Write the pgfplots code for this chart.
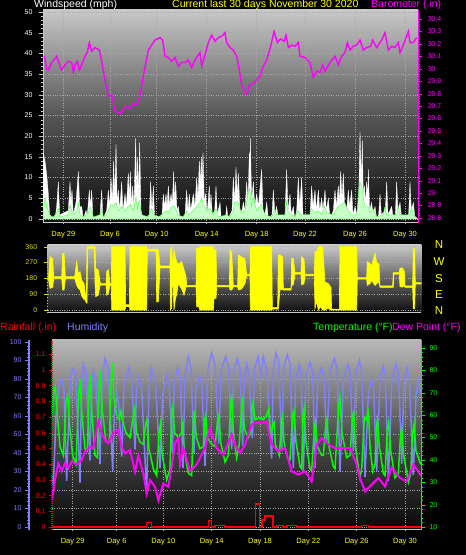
\documentclass[border=0pt]{standalone}
\usepackage{fontspec}
\setmainfont{Liberation Sans}
\usepackage{pgfplots}
\pgfplotsset{compat=1.18}
\definecolor{hum}{RGB}{128,128,255}
\definecolor{mag}{RGB}{255,0,255}
\definecolor{grn}{RGB}{0,255,0}
\definecolor{lgrn}{RGB}{200,255,200}
\definecolor{yel}{RGB}{255,255,0}
\definecolor{ylab}{RGB}{215,215,0}
\definecolor{axgr}{RGB}{200,200,200}
\definecolor{gridc}{RGB}{170,170,170}
\definecolor{aT}{RGB}{200,200,200}\definecolor{aM}{RGB}{85,85,85}\definecolor{aB}{RGB}{14,14,14}
\definecolor{bT}{RGB}{205,205,205}\definecolor{bM}{RGB}{100,100,100}\definecolor{bB}{RGB}{14,14,14}
\definecolor{cT}{RGB}{185,185,185}\definecolor{cM}{RGB}{78,78,78}\definecolor{cB}{RGB}{8,8,8}
\pgfplotsset{
  every axis/.append style={scale only axis, anchor=south west,
    /pgf/number format/assume math mode=true,
    tick label style={font=\fontsize{7}{8}\selectfont},
    tick align=outside, major tick length=4pt, minor tick length=2pt,
    grid style={dotted, gridc, line width=0.5pt}},
}
\begin{document}
\begin{tikzpicture}
\fill[black] (0pt,0pt) rectangle (466pt,555pt);

% ---------------- top panel: wind speed ----------------
\begin{axis}[at={(43pt,332pt)}, width=375pt, height=213pt,
  xmin=129, xmax=1254, ymin=-0.97, ymax=50.48,
  axis x line*=bottom, axis y line*=left,
  axis line style={axgr, line width=1pt},
  xtick={190,330,470,620,770,915,1065,1215},
  xticklabels={Day 29,Day 6,Day 10,Day 14,Day 18,Day 22,Day 26,Day 30},
  xticklabel style={text=yel, font=\fontsize{7.5}{8}\selectfont, yshift=-1pt},
  xtick style={draw=none},
  ytick={0,5,...,50}, minor y tick num=4,
  yticklabel style={text=white, xshift=-3pt}, ytick style={axgr},
  grid=major,
  axis background/.style={top color=aT, bottom color=aB, middle color=aM}]
\addplot[fill=white, draw=white, line width=0.3pt] coordinates {
(129,0)(130,16)(136,13.5)(141,10)(145,6)(149,1)(165,0)(170,3)(175,9)(179,1)(205,2)(210,9)(213,4)(216,7)(220,1)(228,4)(235,11.5)(239,3)(245,3)(250,0)(258,2)(262,1)(268,7)(271,3)(275,7)(279,0)(300,1)(305,7)(309,0)(320,2)(325,7)(329,3)(333,10)(337,4)(341,14)(344,5)(348,18)(352,3)(355,7)(359,2)(365,9)(369,2)(375,6)(379,3)(385,11)(388,5)(391,11.5)(395,3)(398,8)(402,3)(407,19.5)(410,6)(413,15)(416,5)(419,18.5)(423,2)(430,0)(448,1)(452,9)(456,2)(460,8)(464,0)(486,1)(490,6)(494,3)(498,6)(501,3)(505,8)(509,3)(513,6)(517,4)(521,11.5)(524,4)(527,9)(531,2)(535,3)(540,0)(555,1)(560,7)(564,2)(568,6)(572,2)(580,6)(585,3)(590,10)(594,5)(598,14)(601,8)(604,15)(606,9)(609,16)(613,4)(617,6)(621,1)(628,8)(630,3)(633,6)(637,1)(644,2)(648,8)(652,1)(660,4)(664,0)(676,0)(680,3)(684,0)(696,2)(700,10)(704,4)(708,12.5)(712,5)(715,11)(720,2)(726,2)(730,4)(735,2)(740,9)(744,4)(748,16)(749,8)(751,19.5)(755,4)(760,9)(764,3)(770,6)(775,3)(785,12)(789,2)(795,1)(800,4)(805,0)(816,1)(820,7)(825,1)(830,3)(835,0)(855,1)(860,12)(864,2)(870,6)(874,1)(880,3)(884,0)(890,2)(895,10)(899,3)(905,10)(909,1)(930,1)(935,8)(939,3)(945,7)(949,2)(955,7)(959,2)(965,5)(969,2)(975,7)(979,2)(985,5)(990,0)(1000,2)(1005,7)(1009,3)(1015,8)(1018,4)(1022,11.5)(1026,5)(1030,11)(1034,3)(1040,2)(1045,7)(1049,3)(1055,7)(1059,1)(1065,3)(1070,1)(1076,5)(1080,21)(1084,9)(1087,19)(1090,5)(1093,8)(1097,4)(1100,9)(1103,5)(1105,12)(1109,2)(1115,4)(1119,1)(1125,3)(1130,0)(1136,1)(1140,6)(1144,1)(1156,2)(1160,9)(1164,1)(1175,3)(1180,0)(1186,1)(1190,9)(1194,2)(1200,4)(1205,0)(1226,1)(1230,9)(1234,2)(1240,4)(1245,0)(1254,0)
} \closedcycle;
\addplot[fill=lgrn, draw=grn!70!lgrn, line width=0.35pt] coordinates {
(129,0)(132,3)(135,5.5)(140,3)(145,2)(150,0.5)(160,0.5)(170,1.5)(175,2.5)(180,0.5)(205,1)(210,3.5)(215,2)(222,1)(230,2)(235,4)(240,1)(250,0.5)(265,1.5)(270,3)(275,2)(280,0.5)(300,1)(305,2.5)(310,0.5)(320,1)(325,2)(333,3.5)(340,3)(348,4)(355,2)(365,3)(375,2)(385,3)(392,3.5)(400,2)(408,5.3)(412,2.5)(418,4.5)(425,1)(445,0.5)(450,1.5)(455,2.5)(460,1)(480,0.5)(490,1.5)(500,2)(505,1.5)(510,2.5)(520,3.2)(527,2.5)(533,1)(550,0.5)(560,2)(565,1)(580,2)(590,3)(600,4)(605,5)(610,3.5)(620,2)(630,2.5)(640,1)(648,2.5)(655,0.5)(680,1)(690,0.5)(700,2)(704,4.2)(714,4)(724,1.5)(735,2)(744,6)(749,7.4)(755,3)(759,5.5)(770,2)(784,3.5)(795,1)(815,0.5)(820,1.5)(824,2.5)(830,1)(855,1)(859,4.2)(865,1.5)(885,0.5)(894,2)(900,1)(930,1)(934,2.5)(944,1.5)(955,2)(965,1)(974,3)(980,1.5)(1000,1)(1014,3)(1024,3.5)(1034,4)(1045,2)(1055,1)(1070,1)(1079,9)(1085,8)(1090,5)(1095,3)(1104,3)(1110,1.5)(1119,2.5)(1130,0.5)(1150,1)(1154,2.8)(1160,1)(1190,1)(1194,3.2)(1200,1)(1230,1)(1234,3)(1240,1)(1254,0)
} \closedcycle;
\end{axis}

% ---------------- top panel: barometer ----------------
\begin{axis}[at={(43pt,332pt)}, width=375pt, height=213pt,
  xmin=129, xmax=1254, ymin=28.76, ymax=30.472,
  axis x line=none, axis y line*=right,
  axis line style={mag, line width=1pt},
  ytick={28.8,28.9,29,29.1,29.2,29.3,29.4,29.5,29.6,29.7,29.8,29.9,30,30.1,30.2,30.3,30.4},
  minor y tick num=4,
  yticklabel style={text=mag, xshift=2pt}, ytick style={mag}]
\addplot[mag, line width=1.4pt] coordinates {
(133,30.10)(140,30.00)(145,29.99)(155,30.05)(165,30.08)(170,30.10)(180,30.02)(185,29.99)(195,30.03)(205,30.06)(215,30.05)(220,29.97)(225,30.03)(232,30.06)(238,29.99)(245,30.03)(255,30.10)(262,30.13)(268,30.21)(275,30.14)(285,30.17)(298,30.15)(305,30.06)(315,29.91)(325,29.78)(335,29.79)(345,29.66)(360,29.64)(370,29.67)(378,29.70)(390,29.68)(400,29.72)(410,29.71)(420,29.78)(430,29.94)(445,30.15)(455,30.19)(465,30.23)(480,30.25)(488,30.23)(495,30.10)(505,30.09)(515,30.06)(525,30.09)(535,30.02)(545,30.05)(555,30.05)(565,30.07)(575,30.01)(585,30.07)(595,30.11)(600,30.13)(605,30.02)(615,30.11)(625,30.21)(635,30.27)(645,30.22)(655,30.25)(665,30.26)(675,30.29)(680,30.21)(690,30.17)(700,30.15)(710,30.10)(718,29.99)(725,29.87)(730,29.84)(740,29.79)(748,29.87)(760,29.88)(770,29.91)(780,29.94)(790,30.02)(800,30.07)(812,30.18)(822,30.30)(832,30.21)(842,30.24)(852,30.22)(858,30.27)(865,30.17)(875,30.19)(885,30.18)(895,30.21)(900,30.10)(915,30.09)(930,30.05)(940,29.93)(950,29.98)(960,29.97)(968,30.03)(975,29.98)(990,30.05)(1005,30.10)(1015,30.03)(1025,30.10)(1035,30.13)(1042,30.21)(1050,30.15)(1060,30.18)(1070,30.19)(1080,30.23)(1090,30.15)(1100,30.17)(1112,30.18)(1118,30.23)(1130,30.17)(1145,30.23)(1155,30.29)(1165,30.15)(1175,30.18)(1185,30.17)(1195,30.21)(1200,30.13)(1210,30.19)(1225,30.30)(1230,30.21)(1240,30.21)(1250,30.25)
};
\end{axis}

% ---------------- middle panel: wind direction (range band: upper edge, then lower edge back) ----------------
\begin{axis}[at={(47.7pt,242.3pt)}, width=373.6pt, height=68.7pt,
  xmin=143, xmax=1264, ymin=-15, ymax=375,
  axis x line*=bottom, axis y line*=left,
  x axis line style={axgr, line width=1pt},
  y axis line style={ylab, line width=1pt, dotted},
  xtick=\empty,
  ytick={0,90,180,270,360},
  yticklabel style={text=ylab, xshift=-3pt}, ytick style={ylab},
  ymajorgrids,
  axis background/.style={top color=bT, bottom color=bB, middle color=bM}]
\addplot[fill=yel, draw=yel, line width=0.6pt] coordinates {
(146,200)(150,303)(158,290)(161,190)(185,190)(188,322)(192,322)(196,190)(224,190)(230,275)(235,208)(240,218)(245,170)(252,150)(256,90)(259,70)(261,360)(263,360)(283,360)(285,360)(287,237)(295,227)(300,160)(302,150)(318,150)(320,218)(325,230)(330,150)(334,150)(335,360)(375,360)(377,30)(388,30)(390,360)(440,360)(442,345)(468,345)(470,345)(475,341)(480,250)(510,250)(511,351)(515,360)(518,250)(522,340)(526,300)(530,275)(535,260)(545,275)(552,230)(558,190)(560,140)(588,140)(590,351)(596,351)(600,360)(640,360)(642,341)(648,341)(650,140)(688,140)(690,341)(695,330)(700,140)(713,140)(715,313)(725,300)(735,290)(740,203)(750,203)(751,360)(815,360)(817,15)(833,15)(835,313)(840,313)(848,300)(850,121)(873,121)(875,294)(880,294)(885,212)(903,212)(905,303)(912,290)(915,203)(943,203)(945,332)(950,332)(955,360)(962,360)(968,360)(975,160)(985,150)(993,130)(995,5)(1018,5)(1020,360)(1070,360)(1072,184)(1100,184)(1102,275)(1110,265)(1115,250)(1125,322)(1130,270)(1137,260)(1140,137)(1178,137)(1180,212)(1182,212)(1198,212)(1200,237)(1207,240)(1213,220)(1215,137)(1238,137)(1240,351)(1244,351)(1246,156)(1264,156)
(1264,148)(1246,148)(1244,9)(1240,9)(1238,129)(1215,129)(1213,140)(1207,130)(1200,133)(1198,204)(1182,204)(1180,129)(1178,129)(1140,129)(1137,160)(1130,150)(1125,140)(1115,170)(1110,150)(1102,140)(1100,176)(1072,176)(1070,0)(1020,0)(1018,0)(995,0)(993,0)(985,10)(975,0)(968,0)(962,20)(955,0)(950,50)(945,9)(943,195)(915,195)(912,150)(905,142)(903,204)(885,204)(880,142)(875,142)(873,113)(850,113)(848,117)(840,114)(835,5)(833,5)(817,5)(815,0)(751,0)(750,195)(740,195)(735,150)(725,120)(715,114)(713,132)(700,132)(695,114)(690,114)(688,132)(650,132)(648,66)(642,66)(640,0)(600,0)(596,19)(590,19)(588,132)(560,132)(558,130)(552,85)(545,120)(535,150)(530,90)(526,60)(522,0)(518,240)(515,10)(511,0)(510,240)(480,240)(475,47)(470,47)(468,335)(442,335)(440,0)(390,0)(388,20)(377,20)(375,0)(335,0)(334,140)(330,140)(325,95)(320,85)(318,142)(302,142)(300,140)(295,85)(287,76)(285,150)(283,350)(263,350)(261,40)(259,40)(256,55)(252,60)(245,80)(240,114)(235,123)(230,142)(224,178)(196,178)(192,114)(188,114)(185,178)(161,178)(158,130)(150,123)(146,170)
} -- cycle;
\end{axis}

% ---------------- bottom panel: humidity (data + grid) ----------------
\begin{axis}[at={(52pt,25pt)}, width=369pt, height=190pt,
  xmin=156, xmax=1263, ymin=-1.62, ymax=101.08,
  axis x line*=bottom, axis y line*=left,
  x axis line style={axgr, line width=1pt},
  y axis line style={draw=none},
  xtick={218,350,490,635,780,925,1070,1215},
  xticklabels={Day 29,Day 6,Day 10,Day 14,Day 18,Day 22,Day 26,Day 30},
  xticklabel style={text=yel, font=\fontsize{7.5}{8}\selectfont, yshift=-1pt},
  xtick style={draw=none},
  ytick={0,10,...,100}, yticklabels={}, ytick style={draw=none},
  grid=major,
  axis background/.style={top color=cT, bottom color=cB, middle color=cM}]
\addplot[hum, line width=1.5pt] coordinates {
(156,28)(160,22)(168,60)(176,76)(185,80)(192,74)(200,25)(207,65)(213,82)(220,86)(228,80)(240,24)(244,70)(250,88)(258,84)(270,36)(274,70)(280,84)(288,80)(300,34)(306,80)(315,91)(325,86)(338,30)(343,62)(350,72)(356,66)(365,38)(372,76)(385,86)(395,80)(405,42)(409,72)(415,81)(425,75)(440,18)(447,75)(455,86)(466,80)(480,32)(488,72)(500,82)(508,76)(517,40)(523,78)(533,86)(541,80)(549,32)(555,82)(565,92)(573,86)(582,40)(588,75)(598,82)(606,76)(615,33)(623,85)(635,94)(645,88)(656,45)(664,85)(677,92)(686,86)(695,42)(701,84)(712,91)(720,86)(728,44)(733,80)(740,88)(747,82)(757,48)(764,86)(775,92)(782,82)(790,92)(800,85)(815,37)(820,85)(828,94)(836,90)(845,41)(851,86)(862,93)(870,88)(880,32)(887,80)(898,88)(904,80)(910,30)(918,82)(930,89)(938,84)(945,32)(953,80)(965,86)(972,80)(980,46)(990,84)(1003,91)(1011,86)(1020,30)(1030,80)(1043,88)(1050,84)(1060,41)(1068,84)(1078,90)(1085,84)(1095,27)(1105,72)(1115,80)(1121,74)(1130,30)(1140,80)(1150,87)(1156,82)(1165,25)(1176,80)(1188,88)(1196,82)(1205,34)(1212,78)(1220,86)(1228,80)(1240,28)(1248,72)(1255,79)(1262,72)
};
\end{axis}

% ---------------- bottom panel: temperature and dew point ----------------
\begin{axis}[at={(52pt,25pt)}, width=369pt, height=190pt,
  xmin=156, xmax=1263, ymin=8.66, ymax=93.58,
  axis x line=none, axis y line*=right,
  axis line style={grn, line width=1pt},
  ytick={10,20,...,90}, minor y tick num=4,
  yticklabel style={text=grn, xshift=1pt}, ytick style={grn}]
\addplot[grn, line width=1.5pt] coordinates {
(156,60)(160,70)(166,73)(172,60)(180,46)(190,42)(198,66)(203,69)(209,55)(218,42)(228,38)(236,70)(240,76)(245,62)(255,45)(262,44)(268,74)(271,76)(276,60)(285,42)(292,41)(298,76)(301,78)(307,62)(318,48)(328,48)(334,78)(337,81)(343,66)(350,60)(358,58)(363,62)(367,58)(378,52)(390,50)(400,60)(404,63)(410,52)(420,48)(430,47)(437,56)(441,58)(447,45)(460,36)(470,33)(477,52)(481,56)(487,42)(500,31)(510,36)(515,62)(518,64)(524,52)(535,50)(544,52)(548,56)(553,44)(565,34)(575,33)(580,58)(583,62)(589,50)(600,45)(610,46)(614,58)(617,60)(622,50)(635,47)(645,46)(653,58)(657,60)(662,48)(675,39)(685,42)(692,66)(695,68)(700,52)(710,41)(718,47)(725,65)(728,67)(733,54)(745,50)(752,52)(756,64)(759,66)(765,58)(780,59)(790,58)(800,60)(806,63)(812,50)(818,56)(822,57)(826,47)(838,42)(845,58)(848,60)(852,48)(862,41)(870,40)(878,60)(882,62)(888,48)(900,37)(905,36)(909,60)(912,63)(918,48)(930,36)(935,35)(943,54)(946,57)(952,46)(965,42)(970,42)(977,55)(981,58)(987,46)(1000,37)(1005,36)(1016,64)(1020,68)(1026,52)(1040,41)(1050,42)(1057,58)(1061,62)(1066,46)(1080,32)(1085,36)(1092,56)(1095,59)(1100,58)(1105,63)(1110,46)(1118,35)(1125,38)(1129,55)(1132,58)(1138,46)(1150,34)(1155,33)(1162,54)(1166,57)(1172,44)(1185,32)(1195,34)(1201,50)(1205,54)(1211,42)(1225,30)(1232,34)(1238,52)(1242,56)(1248,44)(1262,38)
};
\addplot[mag, line width=2pt] coordinates {
(156,22)(165,31)(175,38.5)(185,34.9)(195,38.5)(205,36.4)(215,39.3)(230,37.9)(245,40)(255,43.7)(270,45.8)(280,45.1)(295,57)(305,51.9)(315,48.9)(325,47.4)(340,51.9)(355,53.4)(365,45.8)(375,42.9)(390,44.4)(405,34.7)(415,42.1)(430,34)(440,25)(450,31)(465,28)(475,22)(490,29.5)(505,28)(515,36.9)(525,47.4)(535,49.6)(540,38)(550,45.3)(570,34.9)(590,37.9)(615,45.3)(630,54.2)(650,45.3)(670,42.3)(695,51.3)(705,46.8)(720,43)(735,46.8)(755,55.7)(765,56.5)(790,56.5)(800,57.2)(815,46.8)(835,43.8)(855,45.3)(875,34.9)(895,33.4)(915,34.9)(935,30.4)(950,46.8)(965,49.8)(985,46.8)(1005,45.3)(1025,45.3)(1050,45.3)(1070,37.9)(1080,31.9)(1095,25.9)(1115,28.9)(1135,31.9)(1155,28.2)(1175,36.4)(1200,31.9)(1220,30.4)(1240,37.9)(1255,34.9)(1262,33)
};
\end{axis}

% ---------------- bottom panel: rainfall ----------------
\begin{axis}[at={(52pt,25pt)}, width=369pt, height=190pt,
  xmin=156, xmax=1263, ymin=-0.0191, ymax=1.191,
  axis x line=none, axis y line*=left,
  axis line style={red, line width=1.5pt, dash pattern=on 1pt off 1pt},
  ytick={0,0.1,0.2,0.3,0.4,0.5,0.6,0.7,0.8,0.9,1,1.1,1.2},
  major tick length=3pt,
  yticklabel style={text=red}, ytick style={red, solid, line width=0.5pt}]
\addplot[red, line width=1.5pt] coordinates {
(156,0)(440,0)(440,0.03)(455,0.03)(455,0)(625,0)(625,0.04)(635,0.04)(635,0)(645,0)(645,0.01)(675,0.01)(675,0)(767,0)(767,0.145)(779,0.145)(779,0)(786,0)(786,0.045)(795,0.045)(795,0.07)(819,0.07)(819,0)(831,0)(831,0.01)(849,0.01)(849,0)(861,0)(861,0.01)(890,0.01)(890,0)(1085,0)(1085,0.01)(1105,0.01)(1105,0)(1263,0)
};
\end{axis}

% ---------------- humidity axis (left, separate) ----------------
\begin{axis}[at={(29pt,25pt)}, width=5pt, height=190pt,
  xmin=0, xmax=1, ymin=-1.62, ymax=101.08,
  axis x line=none, axis y line*=left,
  axis line style={hum, line width=1.5pt},
  ytick={0,10,...,100}, minor y tick num=4,
  yticklabel style={text=hum}, ytick style={hum}]
\end{axis}

% ---------------- texts ----------------
\begin{scope}[font=\fontsize{10.5}{12}\selectfont]
\node[anchor=base west, text=white, inner sep=0] at (34pt,547pt) {Windspeed (mph)};
\node[anchor=base west, text=yel, inner sep=0] at (172pt,547pt) {Current last 30 days November 30 2020};
\node[anchor=base west, text=mag, inner sep=0] at (371pt,547pt) {Barometer (.in)};
\node[anchor=base west, text=red, inner sep=0] at (0pt,224pt) {Rainfall (.in)};
\node[anchor=base west, text=hum, inner sep=0] at (67pt,224pt) {Humidity};
\node[anchor=base west, text=grn, inner sep=0] at (313pt,224pt) {Temperature (°F)};
\node[anchor=base west, text=mag, inner sep=0] at (392pt,224pt) {Dew Point (°F)};
\end{scope}
\begin{scope}[font=\fontsize{11.5}{12}\selectfont, text=yel]
\node at (439pt,310pt) {N};
\node at (439pt,293pt) {W};
\node at (439pt,276pt) {S};
\node at (439pt,260pt) {E};
\node at (439pt,244pt) {N};
\end{scope}
\pgfresetboundingbox
\path[use as bounding box] (0pt,0pt) rectangle (466pt,555pt);
\end{tikzpicture}
\end{document}
